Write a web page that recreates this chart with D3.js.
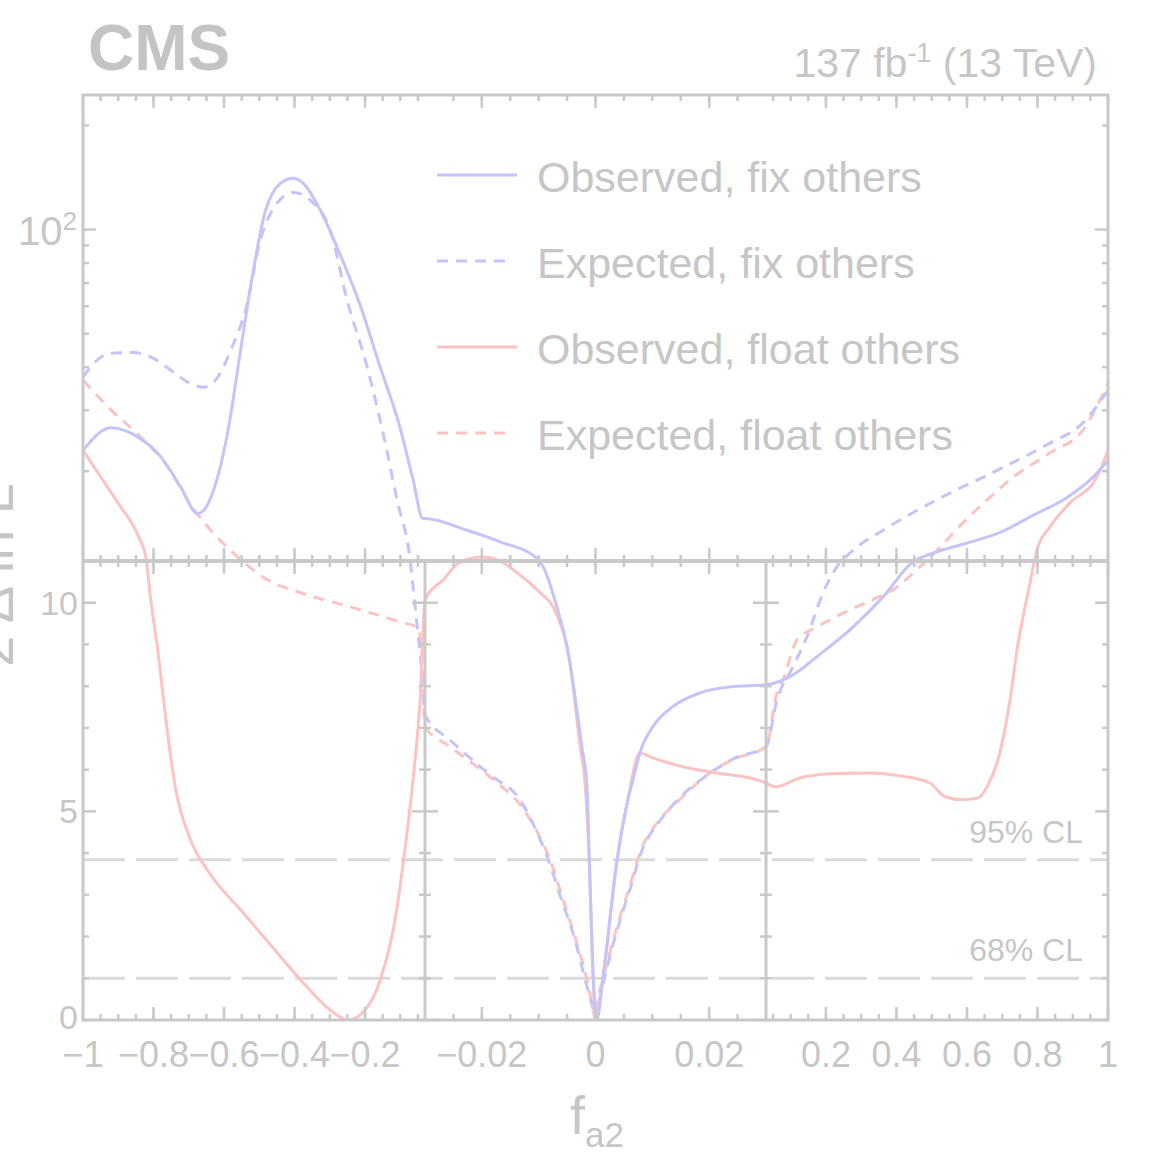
<!DOCTYPE html>
<html>
<head>
<meta charset="utf-8">
<script src="https://cdn.jsdelivr.net/npm/d3@7"></script>
<style>
  body { margin: 0; background: #fff; }
  svg { display: block; }
</style>
</head>
<body>
<svg id="chart" width="1154" height="1168"></svg>
<script>
// Likelihood scan of f_a2: pairs of [f_a2, -2 Δ ln L]
const obsFix = [
  [-1.0, 23.0], [-0.921, 26.7], [-0.844, 25.1], [-0.779, 22.0], [-0.723, 18.0],
  [-0.675, 15.1], [-0.658, 15.4], [-0.630, 17.6], [-0.590, 25.8], [-0.553, 44.8],
  [-0.531, 62.5], [-0.482, 113.7], [-0.440, 136], [-0.403, 140.7], [-0.369, 134],
  [-0.327, 113.7], [-0.270, 84.3], [-0.219, 62.5], [-0.157, 40.0], [-0.101, 26.8],
  [-0.064, 18.9], [-0.036, 14.6], [-0.030, 14.6], [-0.0226, 13.5], [-0.0168, 12.5],
  [-0.0103, 11.2], [-0.0092, 10.86], [-0.0068, 9.90], [-0.0050, 8.94], [-0.0036, 7.75],
  [-0.0024, 6.55], [-0.0015, 5.6], [-0.0011, 3.84], [-0.0004, 1.0], [0.0002, 0.0],
  [0.0013, 1.0], [0.0038, 3.84], [0.0057, 5.28], [0.0066, 5.76], [0.0078, 6.40],
  [0.0101, 7.03], [0.0136, 7.51], [0.0184, 7.84], [0.0242, 7.99], [0.030, 8.03],
  [0.1066, 8.27], [0.1746, 8.71], [0.268, 9.35], [0.362, 10.14], [0.447, 10.98],
  [0.504, 11.59], [0.600, 12.4], [0.694, 13.3], [0.787, 14.9], [0.884, 16.8],
  [0.957, 19.2], [1.0, 21.5]
];
const expFix = [
  [-1.0, 37.4], [-0.969, 41.1], [-0.921, 43.9], [-0.856, 44.1], [-0.808, 42.8],
  [-0.751, 39.2], [-0.703, 36.2], [-0.658, 35.0], [-0.618, 37.4], [-0.581, 44.8],
  [-0.539, 58.5], [-0.497, 93.1], [-0.454, 117.6], [-0.403, 128], [-0.355, 121.5],
  [-0.299, 99.6], [-0.251, 62.5], [-0.194, 40.0], [-0.149, 25.8], [-0.109, 16.5],
  [-0.072, 11.02], [-0.058, 9.90], [-0.041, 8.51], [-0.030, 7.31], [-0.0256, 6.71],
  [-0.0186, 5.88], [-0.0133, 5.28], [-0.0101, 4.44], [-0.0084, 3.88], [-0.0061, 2.93],
  [-0.0036, 1.92], [-0.0019, 1.01], [-0.0006, 0.36], [0.0001, 0.02], [0.0006, 0.41],
  [0.0015, 0.96], [0.0027, 1.61], [0.0045, 2.47], [0.0062, 3.19], [0.0080, 4.0],
  [0.0115, 4.80], [0.0154, 5.40], [0.0202, 5.92], [0.0246, 6.28], [0.030, 6.55],
  [0.0612, 7.67], [0.1066, 8.47], [0.146, 9.18], [0.192, 10.24], [0.231, 10.86],
  [0.268, 11.6], [0.362, 13.5], [0.458, 15.4], [0.552, 17.3], [0.645, 19.2],
  [0.742, 21.5], [0.835, 24.1], [0.929, 27.6], [1.0, 34.3]
];
const obsFloat = [
  [-1.0, 23.0], [-0.958, 19.8], [-0.901, 16.2], [-0.842, 12.9], [-0.822, 11.3],
  [-0.808, 10.07], [-0.788, 8.87], [-0.765, 7.19], [-0.737, 5.52], [-0.695, 4.32],
  [-0.638, 3.48], [-0.553, 2.64], [-0.468, 1.80], [-0.383, 0.96], [-0.299, 0.24],
  [-0.248, 0.0], [-0.200, 0.24], [-0.157, 0.96], [-0.115, 2.40], [-0.087, 4.08],
  [-0.064, 5.76], [-0.044, 7.67], [-0.030, 10.07], [-0.0268, 10.55], [-0.0238, 10.98],
  [-0.0198, 11.3], [-0.0168, 11.0], [-0.0138, 10.72], [-0.0103, 10.31], [-0.0068, 9.71],
  [-0.0045, 8.56], [-0.0027, 6.55], [-0.0019, 5.76], [-0.0011, 3.84], [-0.0004, 1.0],
  [0.0001, 0.0], [0.0013, 1.0], [0.0038, 3.84], [0.0057, 5.28], [0.0078, 6.40],
  [0.0101, 6.28], [0.0154, 6.07], [0.0213, 5.92], [0.0272, 5.80], [0.030, 5.68],
  [0.0555, 5.59], [0.126, 5.80], [0.212, 5.90], [0.325, 5.92], [0.410, 5.85],
  [0.495, 5.68], [0.538, 5.35], [0.586, 5.28], [0.631, 5.32], [0.660, 5.64],
  [0.688, 6.24], [0.722, 7.67], [0.742, 8.87], [0.779, 10.48], [0.798, 11.8],
  [0.835, 13.8], [0.892, 16.2], [0.968, 19.2], [1.0, 23.0]
];
const expFloat = [
  [-1.0, 36.7], [-0.921, 30.1], [-0.836, 25.1], [-0.760, 20.6], [-0.703, 16.5],
  [-0.646, 13.8], [-0.573, 11.59], [-0.477, 10.55], [-0.383, 10.24], [-0.242, 9.90],
  [-0.101, 9.54], [-0.050, 9.40], [-0.038, 8.63], [-0.030, 7.03], [-0.0256, 6.55],
  [-0.0180, 5.76], [-0.0133, 5.16], [-0.0098, 4.39], [-0.0080, 3.84], [-0.0057, 2.88],
  [-0.0033, 1.85], [-0.0015, 0.96], [-0.0005, 0.31], [0.0, 0.0], [0.0004, 0.48],
  [0.0013, 0.96], [0.0025, 1.61], [0.0043, 2.47], [0.0060, 3.19], [0.0078, 4.0],
  [0.0113, 4.80], [0.0148, 5.28], [0.0201, 5.92], [0.0241, 6.24], [0.030, 6.55],
  [0.0612, 7.84], [0.0782, 8.15], [0.118, 9.11], [0.175, 9.42], [0.268, 9.83],
  [0.345, 10.12], [0.390, 10.31], [0.458, 10.79], [0.515, 11.8], [0.589, 14.2],
  [0.665, 16.8], [0.722, 18.9], [0.835, 22.6], [0.929, 26.3], [1.0, 36.0]
];

const seriesNames = ["Observed, fix others", "Expected, fix others",
                     "Observed, float others", "Expected, float others"];

// Confidence-level thresholds on −2 Δ ln L
const clValues = [3.84, 1.0];
const clLabels = ["95% CL", "68% CL"];

// Axis ticks for the three x ranges
const xMajorTicks = [-1, -0.8, -0.6, -0.4, -0.2, -0.02, 0, 0.02, 0.2, 0.4, 0.6, 0.8, 1];
const xTickLabels = ["−1", "−0.8", "−0.6", "−0.4", "−0.2", "−0.02", "0", "0.02",
                     "0.2", "0.4", "0.6", "0.8", "1"];
const xMinorTicks = [].concat(
  d3.range(-0.95, -0.04, 0.05),
  d3.range(-0.025, 0.0251, 0.005),
  d3.range(0.05, 0.951, 0.05)
);
const yLinMajor = [0, 5, 10];
const yLinLabels = ["0", "5", "10"];
const yLinMinor = [1, 2, 3, 4, 6, 7, 8, 9];
const yLogMajor = [100];
const yLogMinor = [20, 30, 40, 50, 60, 70, 80, 90, 200];

// ---- layout ----
const L = 83, R = 1108, T = 95, B = 1020, BRK = 561;
const xSplit1 = 425, xSplit2 = 766;

const svg = d3.select("#chart");
const font = "'Liberation Sans', Arial, Helvetica, sans-serif";
const grey = "#c9c9c9";
const textGrey = "#c6c6c6";
const blue = "#c4c4fb";
const red = "#fdc2c2";

// Piecewise x: wide ranges on either side, zoomed window around zero
const x = d3.scaleLinear()
  .domain([-1, -0.03, 0.03, 1])
  .range([L, xSplit1, xSplit2, R]);
// y: linear up to 11, logarithmic above
const yLin = d3.scaleLinear().domain([0, 11]).range([B, BRK]);
const yLog = d3.scaleLog().domain([11, 245]).range([BRK, T]);
const y = v => (v <= 11 ? yLin(v) : yLog(v));

svg.append("rect").attr("width", 1154).attr("height", 1168).attr("fill", "#fff");

// clip for curves
svg.append("clipPath").attr("id", "plotClip")
  .append("rect").attr("x", L).attr("y", T).attr("width", R - L).attr("height", B - T);

// ---- confidence level lines ----
const clG = svg.append("g");
clValues.forEach((v, i) => {
  clG.append("line")
    .attr("x1", L).attr("x2", R).attr("y1", y(v)).attr("y2", y(v))
    .attr("stroke", "#dadada").attr("stroke-width", 3)
    .attr("stroke-dasharray", "42 11");
  clG.append("text")
    .attr("x", 1083).attr("y", y(v) - 17)
    .attr("text-anchor", "end")
    .attr("font-family", font).attr("font-size", 32)
    .attr("fill", textGrey)
    .text(clLabels[i]);
});

// ---- curves ----
const line = d3.line()
  .x(d => x(d[0]))
  .y(d => y(d[1]))
  .curve(d3.curveMonotoneX);

const curves = [
  { data: expFloat, color: red, dash: "11 8" },
  { data: expFix, color: blue, dash: "11 8" },
  { data: obsFloat, color: red, dash: null },
  { data: obsFix, color: blue, dash: null }
];
const curveG = svg.append("g").attr("clip-path", "url(#plotClip)");
curves.forEach(c => {
  curveG.append("path")
    .attr("d", line(c.data))
    .attr("fill", "none")
    .attr("stroke", c.color)
    .attr("stroke-width", 3)
    .attr("stroke-linejoin", "round")
    .attr("stroke-dasharray", c.dash);
});

// ---- frame, break line and dividers ----
const frame = svg.append("g").attr("stroke", grey).attr("fill", "none");
frame.append("rect").attr("x", L).attr("y", T).attr("width", R - L).attr("height", B - T)
  .attr("stroke-width", 3);
frame.append("line").attr("x1", L).attr("x2", R).attr("y1", BRK).attr("y2", BRK)
  .attr("stroke-width", 4);
[xSplit1, xSplit2].forEach(px => {
  frame.append("line").attr("x1", px).attr("x2", px).attr("y1", BRK).attr("y2", B)
    .attr("stroke-width", 3);
});

// ---- ticks ----
const ticks = svg.append("g").attr("stroke", grey).attr("stroke-width", 2.5);
function xTick(v, len) {
  const px = x(v);
  ticks.append("line").attr("x1", px).attr("x2", px).attr("y1", B).attr("y2", B - len);
  ticks.append("line").attr("x1", px).attr("x2", px).attr("y1", T).attr("y2", T + len);
  ticks.append("line").attr("x1", px).attr("x2", px).attr("y1", BRK - len).attr("y2", BRK + len);
}
xMajorTicks.forEach(v => xTick(v, 13));
xMinorTicks.forEach(v => xTick(v, 6));

function yTick(v, len, both) {
  const py = y(v);
  ticks.append("line").attr("x1", L).attr("x2", L + len).attr("y1", py).attr("y2", py);
  ticks.append("line").attr("x1", R).attr("x2", R - len).attr("y1", py).attr("y2", py);
  if (both) {
    [xSplit1, xSplit2].forEach(px => {
      ticks.append("line").attr("x1", px - len).attr("x2", px + len).attr("y1", py).attr("y2", py);
    });
  }
}
yLinMajor.forEach(v => yTick(v, 13, true));
yLinMinor.forEach(v => yTick(v, 6, true));
yLogMajor.forEach(v => yTick(v, 13, false));
yLogMinor.forEach(v => yTick(v, 6, false));

// ---- tick labels ----
const labels = svg.append("g").attr("font-family", font).attr("fill", textGrey);
xMajorTicks.forEach((v, i) => {
  labels.append("text")
    .attr("x", x(v)).attr("y", 1067)
    .attr("text-anchor", "middle").attr("font-size", 36)
    .text(xTickLabels[i]);
});
yLinMajor.forEach((v, i) => {
  labels.append("text")
    .attr("x", 78).attr("y", y(v) + (v === 0 ? 9 : 12))
    .attr("text-anchor", "end").attr("font-size", 34)
    .text(yLinLabels[i]);
});
yLogMajor.forEach(v => {
  const t = labels.append("text")
    .attr("x", 77).attr("y", y(v) + 15)
    .attr("text-anchor", "end").attr("font-size", 40);
  t.append("tspan").text("10");
  t.append("tspan").attr("font-size", 26).attr("dy", -15).text("2");
});

// ---- axis titles ----
const xt = svg.append("text")
  .attr("x", 570).attr("y", 1134)
  .attr("font-family", font).attr("fill", textGrey);
xt.append("tspan").attr("font-size", 54).text("f");
xt.append("tspan").attr("font-size", 35).attr("dy", 13).text("a2");

svg.append("text")
  .attr("transform", "translate(13,483) rotate(-90)")
  .attr("text-anchor", "end")
  .attr("font-family", font).attr("font-size", 56)
  .attr("fill", textGrey)
  .text("−2 Δ ln L");

// ---- header ----
svg.append("text")
  .attr("x", 88).attr("y", 70)
  .attr("font-family", font).attr("font-weight", "bold").attr("font-size", 64)
  .attr("fill", "#c4c4c4")
  .text("CMS");
const lumi = svg.append("text")
  .attr("x", 1097).attr("y", 77)
  .attr("text-anchor", "end")
  .attr("font-family", font).attr("font-size", 41)
  .attr("fill", textGrey);
lumi.append("tspan").text("137 fb");
lumi.append("tspan").attr("font-size", 27).attr("dy", -15).text("-1");
lumi.append("tspan").attr("dy", 15).text(" (13 TeV)");

// ---- legend ----
const legendStyles = [
  { color: blue, dash: null },
  { color: blue, dash: "11 8" },
  { color: red, dash: null },
  { color: red, dash: "11 8" }
];
const legend = svg.append("g");
seriesNames.forEach((name, i) => {
  const cy = 175 + i * 86;
  legend.append("line")
    .attr("x1", 437).attr("x2", i % 2 ? 510 : 517)
    .attr("y1", cy).attr("y2", cy)
    .attr("stroke", legendStyles[i].color).attr("stroke-width", 3)
    .attr("stroke-dasharray", legendStyles[i].dash);
  legend.append("text")
    .attr("x", 537).attr("y", cy + 17)
    .attr("font-family", font).attr("font-size", 43)
    .attr("fill", textGrey)
    .text(name);
});
</script>
</body>
</html>
